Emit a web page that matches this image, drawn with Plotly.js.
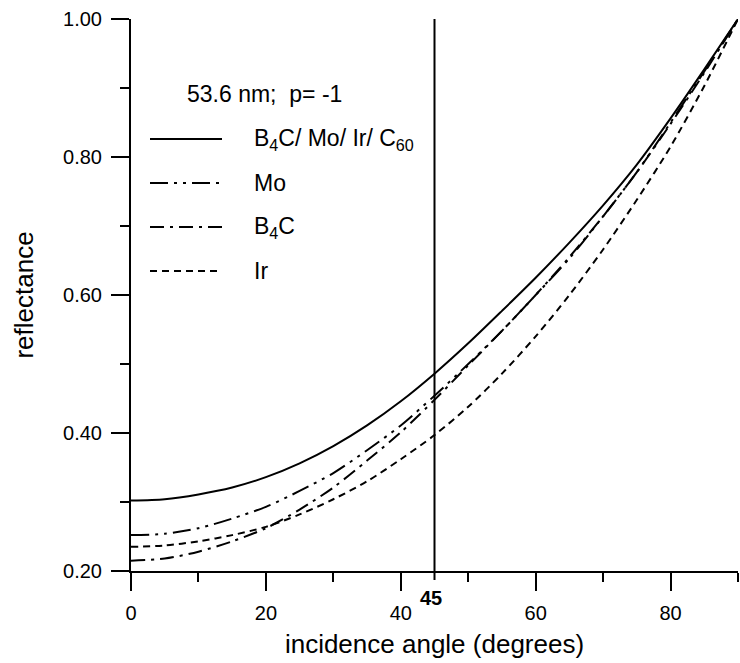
<!DOCTYPE html>
<html>
<head>
<meta charset="utf-8">
<script src="https://cdn.plot.ly/plotly-3.0.1.min.js"></script>
<style>body{margin:0;padding:0;background:#fff}</style>
</head>
<body>
<div id="chart" style="width:740px;height:663px"></div>
<script>
// incidence angle (degrees)
var angles = [0,5,10,15,20,25,30,35,40,45,50,55,60,65,70,75,80,85,90];
// reflectance for each structure
var rMulti = [0.302,0.304,0.311,0.321,0.336,0.356,0.381,0.411,0.446,0.486,0.530,0.577,0.625,0.676,0.730,0.789,0.856,0.927,1.000];
var rMo    = [0.252,0.254,0.262,0.276,0.293,0.316,0.342,0.375,0.411,0.454,0.500,0.548,0.600,0.653,0.714,0.778,0.850,0.924,1.000];
var rB4C   = [0.215,0.218,0.228,0.243,0.262,0.289,0.321,0.360,0.401,0.448,0.498,0.548,0.600,0.655,0.714,0.778,0.848,0.922,1.000];
var rIr    = [0.235,0.237,0.243,0.252,0.264,0.282,0.304,0.330,0.362,0.397,0.438,0.486,0.540,0.600,0.666,0.738,0.815,0.903,1.000];

var seriesNames = ['B<sub>4</sub>C/ Mo/ Ir/ C<sub>60</sub>', 'Mo', 'B<sub>4</sub>C', 'Ir'];
var seriesData = [rMulti, rMo, rB4C, rIr];
var seriesDash = ['solid', '18px,6px,3px,6px,3px,6px', '14px,6px,3px,6px', '7px,5px'];
var legendTitle = '53.6 nm;\u00a0 p= -1';
var markAngle = 45;

var L = 131, R = 2, T = 19, B = 92, W = 740, H = 663;
var pw = W - L - R, ph = H - T - B;
function px(x){ return (x - L) / pw; }
function py(y){ return (H - B - y) / ph; }

var traces = seriesData.map(function(d, i){
  return {x: angles, y: d, type: 'scatter', mode: 'lines', name: seriesNames[i],
          line: {color: 'black', width: 2, dash: seriesDash[i], shape: 'spline', smoothing: 0.8},
          hoverinfo: 'x+y'};
});

var shapes = [
  {type: 'line', xref: 'x', yref: 'paper', x0: markAngle, x1: markAngle, y0: -9/ph, y1: 1,
   line: {color: 'black', width: 2}}
];
var annotations = [
  {xref: 'paper', yref: 'paper', x: px(185), y: py(94), xanchor: 'left', yanchor: 'middle',
   text: legendTitle, showarrow: false, font: {size: 23, color: 'black'}},
  {xref: 'x', yref: 'paper', x: markAngle, y: 0, xanchor: 'center', yanchor: 'top', xshift: -4, yshift: -14,
   text: '<b>' + markAngle + '</b>', showarrow: false, font: {size: 20, color: 'black'}}
];
seriesNames.forEach(function(n, i){
  var yy = 139 + 44 * i;
  shapes.push({type: 'line', xref: 'paper', yref: 'paper', x0: px(150), x1: px(222), y0: py(yy), y1: py(yy),
               line: {color: 'black', width: 2, dash: seriesDash[i]}});
  annotations.push({xref: 'paper', yref: 'paper', x: px(252), y: py(yy), xanchor: 'left', yanchor: 'middle',
                    text: n, showarrow: false, font: {size: 23, color: 'black'}});
});

var axCommon = {showgrid: false, zeroline: false, showline: true, linewidth: 2, linecolor: 'black',
                ticks: 'outside', tickwidth: 2, tickcolor: 'black'};

var layout = {
  width: W, height: H,
  margin: {l: L, r: R, t: T, b: B, pad: 0},
  paper_bgcolor: 'white', plot_bgcolor: 'white',
  showlegend: false,
  font: {family: 'Arial, "Liberation Sans", sans-serif', color: 'black'},
  xaxis: Object.assign({}, axCommon, {
    range: [0, 90], tick0: 0, dtick: 20, ticklen: 18, ticklabelstandoff: 5,
    tickfont: {size: 20},
    minor: {tick0: 0, dtick: 10, ticks: 'outside', ticklen: 9, tickwidth: 2, tickcolor: 'black', showgrid: false},
    title: {text: 'incidence angle (degrees)', font: {size: 26}, standoff: 12}
  }),
  yaxis: Object.assign({}, axCommon, {
    range: [0.2, 1.0], tick0: 0.2, dtick: 0.2, ticklen: 18, tickformat: '.2f', ticklabelstandoff: 5,
    tickfont: {size: 20},
    minor: {tick0: 0.2, dtick: 0.1, ticks: 'outside', ticklen: 9, tickwidth: 2, tickcolor: 'black', showgrid: false},
    title: {text: 'reflectance', font: {size: 26}, standoff: 22}
  }),
  xaxis2: Object.assign({}, axCommon, {
    overlaying: 'x', side: 'top', anchor: 'y', range: [0, 90], tick0: 0, dtick: 20, ticklen: 9,
    showticklabels: false,
    minor: {tick0: 0, dtick: 10, ticks: 'outside', ticklen: 5, tickwidth: 2, tickcolor: 'black', showgrid: false}
  }),
  yaxis2: Object.assign({}, axCommon, {
    overlaying: 'y', side: 'right', anchor: 'x', range: [0.2, 1.0], tick0: 0.2, dtick: 0.2, ticklen: 9,
    showticklabels: false,
    minor: {tick0: 0.2, dtick: 0.1, ticks: 'outside', ticklen: 5, tickwidth: 2, tickcolor: 'black', showgrid: false}
  }),
  shapes: shapes,
  annotations: annotations
};

Plotly.newPlot('chart', traces, layout, {staticPlot: true, displayModeBar: false});
</script>
</body>
</html>
